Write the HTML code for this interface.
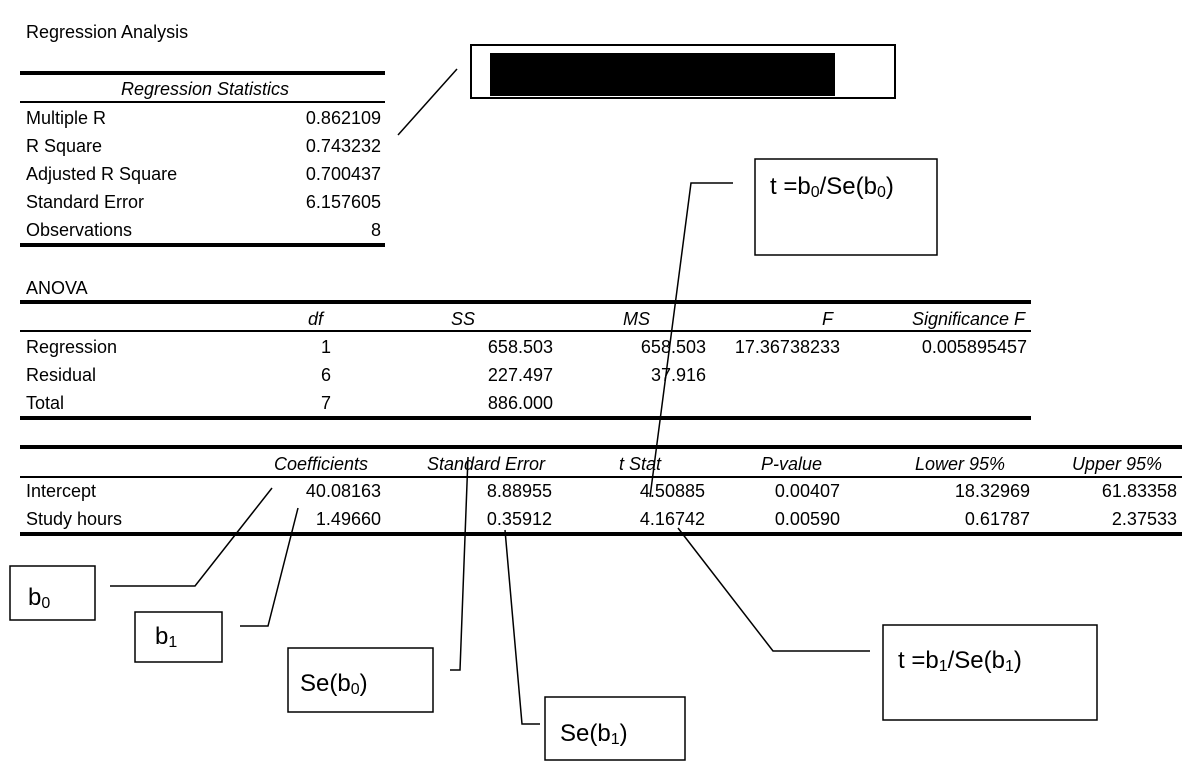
<!DOCTYPE html>
<html><head><meta charset="utf-8"><style>
html,body{margin:0;padding:0;background:#fff;}
svg{display:block;}
text{font-family:"Liberation Sans",Arial,sans-serif;font-size:18px;fill:#000;}
.i{font-style:italic;}
.r{text-anchor:end;}
.c{font-size:24px;}
</style></head><body>
<svg width="1200" height="777" viewBox="0 0 1200 777" xmlns="http://www.w3.org/2000/svg">
<text x="26" y="38">Regression Analysis</text>

<rect x="20" y="71" width="365" height="4"/>
<text x="205" y="95" class="i" text-anchor="middle">Regression Statistics</text>
<rect x="20" y="101" width="365" height="2"/>
<text x="26" y="124">Multiple R</text><text x="381" y="124" class="r">0.862109</text>
<text x="26" y="152">R Square</text><text x="381" y="152" class="r">0.743232</text>
<text x="26" y="180">Adjusted R Square</text><text x="381" y="180" class="r">0.700437</text>
<text x="26" y="208">Standard Error</text><text x="381" y="208" class="r">6.157605</text>
<text x="26" y="236">Observations</text><text x="381" y="236" class="r">8</text>
<rect x="20" y="243" width="365" height="4"/>

<line x1="398" y1="135" x2="457" y2="69" stroke="#000" stroke-width="1.5"/>
<rect x="471" y="45" width="424" height="53" fill="none" stroke="#000" stroke-width="2"/>
<rect x="490" y="53" width="345" height="43" fill="#000"/>

<text x="26" y="294">ANOVA</text>
<rect x="20" y="300" width="1011" height="4"/>
<text x="323" y="325" class="i r">df</text>
<text x="475" y="325" class="i r">SS</text>
<text x="650" y="325" class="i r">MS</text>
<text x="833" y="325" class="i r">F</text>
<text x="1025" y="325" class="i r">Significance F</text>
<rect x="20" y="330" width="1011" height="2"/>
<text x="26" y="353">Regression</text><text x="331" y="353" class="r">1</text><text x="553" y="353" class="r">658.503</text><text x="706" y="353" class="r">658.503</text><text x="840" y="353" class="r">17.36738233</text><text x="1027" y="353" class="r">0.005895457</text>
<text x="26" y="381">Residual</text><text x="331" y="381" class="r">6</text><text x="553" y="381" class="r">227.497</text><text x="706" y="381" class="r">37.916</text>
<text x="26" y="409">Total</text><text x="331" y="409" class="r">7</text><text x="553" y="409" class="r">886.000</text>
<rect x="20" y="416" width="1011" height="4"/>

<rect x="20" y="445" width="1162" height="4"/>
<text x="368" y="470" class="i r">Coefficients</text>
<text x="545" y="470" class="i r">Standard Error</text>
<text x="661" y="470" class="i r">t Stat</text>
<text x="822" y="470" class="i r">P-value</text>
<text x="1005" y="470" class="i r">Lower 95%</text>
<text x="1162" y="470" class="i r">Upper 95%</text>
<rect x="20" y="476" width="1162" height="2"/>
<text x="26" y="497">Intercept</text><text x="381" y="497" class="r">40.08163</text><text x="552" y="497" class="r">8.88955</text><text x="705" y="497" class="r">4.50885</text><text x="840" y="497" class="r">0.00407</text><text x="1030" y="497" class="r">18.32969</text><text x="1177" y="497" class="r">61.83358</text>
<text x="26" y="525">Study hours</text><text x="381" y="525" class="r">1.49660</text><text x="552" y="525" class="r">0.35912</text><text x="705" y="525" class="r">4.16742</text><text x="840" y="525" class="r">0.00590</text><text x="1030" y="525" class="r">0.61787</text><text x="1177" y="525" class="r">2.37533</text>
<rect x="20" y="532" width="1162" height="4"/>

<g fill="none" stroke="#000" stroke-width="1.5">
<polyline points="733,183 691,183 650,497"/>
<rect x="755" y="159" width="182" height="96"/>
<polyline points="110,586 195,586 272,488"/>
<rect x="10" y="566" width="85" height="54"/>
<polyline points="240,626 268,626 298,508"/>
<rect x="135" y="612" width="87" height="50"/>
<polyline points="450,670 460,670 468,457"/>
<rect x="288" y="648" width="145" height="64"/>
<polyline points="540,724 522,724 505,530"/>
<rect x="545" y="697" width="140" height="63"/>
<polyline points="870,651 773,651 678,528"/>
<rect x="883" y="625" width="214" height="95"/>
</g>
<text x="770" y="194" class="c">t =b<tspan font-size="16" dy="3">0</tspan><tspan dy="-3">/Se(b</tspan><tspan font-size="16" dy="3">0</tspan><tspan dy="-3">)</tspan></text>
<text x="28" y="605" class="c">b<tspan font-size="16" dy="3">0</tspan></text>
<text x="155" y="644" class="c">b<tspan font-size="16" dy="3">1</tspan></text>
<text x="300" y="691" class="c">Se(b<tspan font-size="16" dy="3">0</tspan><tspan dy="-3">)</tspan></text>
<text x="560" y="741" class="c">Se(b<tspan font-size="16" dy="3">1</tspan><tspan dy="-3">)</tspan></text>
<text x="898" y="668" class="c">t =b<tspan font-size="16" dy="3">1</tspan><tspan dy="-3">/Se(b</tspan><tspan font-size="16" dy="3">1</tspan><tspan dy="-3">)</tspan></text>
</svg>
</body></html>
